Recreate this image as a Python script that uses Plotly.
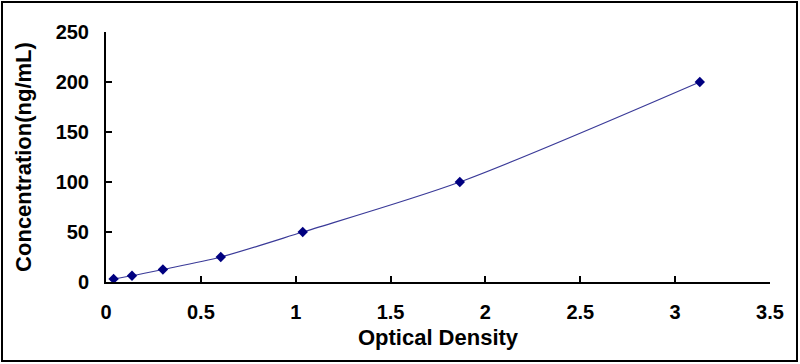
import plotly.graph_objects as go

# Data
od = [0.04, 0.137, 0.30, 0.605, 1.037, 1.865, 3.13]
conc = [3.125, 6.25, 12.5, 25, 50, 100, 200]

x_ticks = [0, 0.5, 1, 1.5, 2, 2.5, 3, 3.5]
x_ticklabels = ["0", "0.5", "1", "1.5", "2", "2.5", "3", "3.5"]
y_ticks = [0, 50, 100, 150, 200, 250]
y_ticklabels = ["0", "50", "100", "150", "200", "250"]

FONT = "Liberation Sans"

fig = go.Figure()
fig.add_trace(go.Scatter(
    x=od, y=conc, mode="lines+markers",
    line=dict(color="#3a3a98", width=1.2, shape="spline", smoothing=0.8),
    marker=dict(symbol="diamond", size=8, color="#000080"),
    showlegend=False, cliponaxis=False,
))

fig.update_layout(
    width=800, height=364,
    margin=dict(l=106, r=30, t=32, b=82, autoexpand=False),
    paper_bgcolor="white", plot_bgcolor="white",
    font=dict(family=FONT, color="black"),
    xaxis=dict(
        range=[0, 3.5], tickvals=x_ticks, ticktext=x_ticklabels, automargin=False,
        showgrid=False, zeroline=False, showline=True, linecolor="black", linewidth=2,
        ticks="inside", ticklen=6, tickwidth=2, tickcolor="black",
        tickfont=dict(family=FONT, size=20, color="black", weight="bold"),
        ticklabelstandoff=11,
        title=dict(text="<b>Optical Density</b>", font=dict(family=FONT, size=22, color="black"), standoff=8),
    ),
    yaxis=dict(
        range=[0, 250], tickvals=y_ticks, ticktext=y_ticklabels, automargin=False,
        showgrid=False, zeroline=False, showline=True, linecolor="black", linewidth=2,
        ticks="inside", ticklen=6, tickwidth=2, tickcolor="black",
        tickfont=dict(family=FONT, size=20, color="black", weight="bold"),
        ticklabelstandoff=11,
        title=dict(text="<b>Concentration(ng/mL)</b>", font=dict(family=FONT, size=22, color="black"), standoff=18),
    ),
    shapes=[dict(
        type="rect", xref="paper", yref="paper",
        x0=(2 - 106) / 664, x1=(797 - 106) / 664,
        y0=(282 - 361) / 250, y1=(282 - 2) / 250,
        line=dict(color="black", width=2), fillcolor="rgba(0,0,0,0)", layer="below",
    )],
)

fig.write_html(
    "out.html",
    config={"displayModeBar": False},
    post_script="document.body.style.margin='0';document.body.style.overflow='hidden';",
)
